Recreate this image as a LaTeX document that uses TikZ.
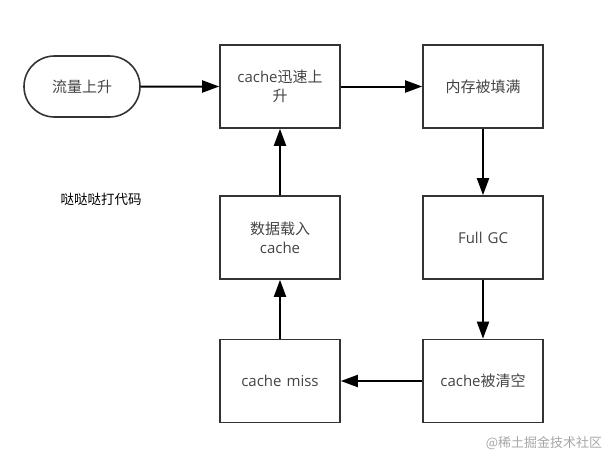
\documentclass[tikz,border=0pt]{standalone}
\usepackage{fontspec}
\setmainfont{Open Sans}
\newfontfamily\cjk{Noto Sans CJK SC}
\usetikzlibrary{arrows.meta,shapes.misc}
\definecolor{edge}{HTML}{333333}
\definecolor{txt}{HTML}{444444}
\begin{document}
\begin{tikzpicture}[x=1pt,y=-1pt,
  base/.style={draw=edge,line width=1.6pt,inner sep=2pt,text=txt,font=\fontsize{15}{19}\selectfont,align=center},
  box/.style={base,minimum width=120pt,minimum height=83pt,text width=112pt},
  pill/.style={base,rounded rectangle,minimum width=120pt,minimum height=61pt},
  conn/.style={draw=black,line width=2pt,-{Triangle[length=17pt,width=12pt]}}
]
\useasboundingbox (0,0) rectangle (615,464);
\node[pill] (a) at (82,86.5) {\cjk 流量上升};
\node[box] (b) at (280,86.5) {cache{\cjk 迅速上}\\{\cjk 升}};
\node[box] (c) at (483,86.5) {\cjk 内存被填满};
\node[box] (d) at (483,237.5) {Full GC};
\node[box] (e) at (483,381) {cache{\cjk 被清空}};
\node[box] (f) at (280,381) {cache miss};
\node[box] (g) at (280,237.5) {{\cjk 数据载入}\\cache};
\node[text=black,font=\cjk\fontsize{13.5}{15}\selectfont] (t) at (101,199) {哒哒哒打代码};
\node[text=black!35,font=\cjk\fontsize{13}{15}\selectfont] (w) at (544,443) {@稀土掘金技术社区};
\draw[conn] (a) -- (b);
\draw[conn] (b) -- (c);
\draw[conn] (c) -- (d);
\draw[conn] (d) -- (e);
\draw[conn] (e) -- (f);
\draw[conn] (f) -- (g);
\draw[conn] (g) -- (b);
\end{tikzpicture}
\end{document}
